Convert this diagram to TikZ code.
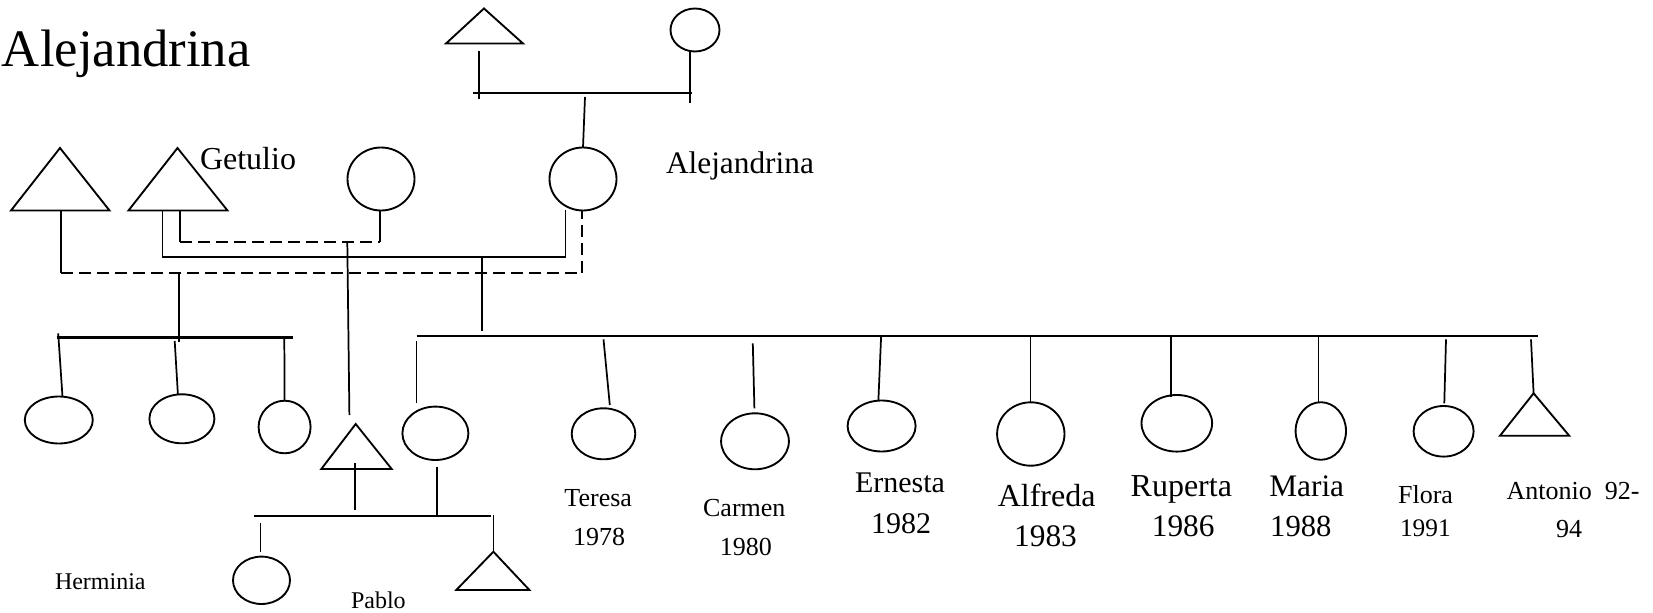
\documentclass[tikz,border=0pt]{standalone}
\usepackage{fontspec}
\setmainfont{Liberation Serif}
\usetikzlibrary{shapes.geometric}
\newlength\pxu
\setlength\pxu{0.75pt}
\newcommand\fsz[1]{\fontsize{#1}{#1}\selectfont}
\tikzset{
  fem/.style={draw, ellipse, line width=1.4pt, inner sep=0pt, outer sep=0pt},
  tri/.style={draw, line width=1.4pt, line join=miter},
  ln/.style={draw, line width=1.3pt},
  sibline/.style={draw, line width=2pt},
  dsh/.style={draw, line width=1.3pt, dash pattern=on 9pt off 4.5pt},
  lbl/.style={inner sep=0pt, outer sep=0pt, anchor=base},
  lblw/.style={inner sep=0pt, outer sep=0pt, anchor=base west}
}
\begin{document}
\begin{tikzpicture}[x=0.75pt, y=-0.75pt]
\useasboundingbox (0,0) rectangle (1653,613);

% ---------- title ----------
\node[lblw, font=\fsz{39.5pt}] (title) at (2,66.7) {Alejandrina};

% ---------- grandparents ----------
\coordinate (T0a) at (484,8.5);
\coordinate (T0l) at (446,43.5);
\coordinate (T0r) at (523,43.5);
\draw[tri] (T0a) -- (T0l) -- (T0r) -- cycle;
\node[fem, minimum width=49\pxu, minimum height=43\pxu] (C0) at (695,30) {};
\coordinate (g0a) at (479,51);
\coordinate (g0b) at (479,99);
\coordinate (g1a) at (690,51.5);
\coordinate (g1b) at (690,103);
\coordinate (gL) at (473,93);
\coordinate (gR) at (692,93);
\coordinate (gS) at (585,97);
\draw[ln] (g0a) -- (g0b);
\draw[ln] (g1a) -- (g1b);
\draw[sibline] (gL) -- (gR);

% ---------- second row ----------
\coordinate (T1a) at (60,148);
\coordinate (T1l) at (11,210.5);
\coordinate (T1r) at (109.5,210.5);
\draw[tri] (T1a) -- (T1l) -- (T1r) -- cycle;
\coordinate (T2a) at (177.5,148);
\coordinate (T2l) at (128.5,210.5);
\coordinate (T2r) at (227.5,210.5);
\draw[tri] (T2a) -- (T2l) -- (T2r) -- cycle;
\node[fem, minimum width=67\pxu, minimum height=63\pxu] (C3) at (381,179) {};
\node[fem, minimum width=67\pxu, minimum height=63\pxu] (CA) at (583,179) {};
\draw[ln] (gS) -- (CA.north);

\node[lblw, font=\fsz{24pt}] (lGetulio) at (200,169.5) {Getulio};
\node[lblw, font=\fsz{23.5pt}] (lAlej) at (666,174) {Alejandrina};

% partnerships
\coordinate (p1a) at (61,210.5);
\coordinate (p1b) at (61,273.3);
\coordinate (p1c) at (582.3,273.3);
\coordinate (p1d) at (582.3,210.5);
\draw[ln] (p1a) -- (p1b);
\draw[dsh] (p1b) -- (p1c) -- (p1d);

\coordinate (p2a) at (162.5,210.5);
\coordinate (p2b) at (162.5,257.3);
\coordinate (p2c) at (565.5,257.3);
\coordinate (p2d) at (565.5,210);
\draw[ln] (p2a) -- (p2b) -- (p2c) -- (p2d);

\coordinate (p3a) at (180,210.5);
\coordinate (p3b) at (180,241.7);
\coordinate (p3c) at (380,241.7);
\coordinate (p3d) at (380,211);
\draw[ln] (p3a) -- (p3b);
\draw[dsh] (p3b) -- (p3c);
\draw[ln] (p3c) -- (p3d);

% ---------- left sibship ----------
\coordinate (ls0) at (179,273.3);
\coordinate (ls1) at (179,341.7);
\draw[ln] (ls0) -- (ls1);
\coordinate (lsL) at (56.6,337.7);
\coordinate (lsR) at (292.7,337.7);
\draw[sibline] (lsL) -- (lsR);
\node[fem, minimum width=68\pxu, minimum height=47\pxu] (S1) at (58.8,420) {};
\node[fem, minimum width=65\pxu, minimum height=49\pxu] (S2) at (181.9,418.8) {};
\node[fem, minimum width=52\pxu, minimum height=52.6\pxu] (S3) at (284.6,427) {};
\coordinate (s1t) at (58.2,333.3);
\coordinate (s1b) at (62.5,396.7);
\coordinate (s2t) at (174.7,341);
\coordinate (s2b) at (177.9,394.3);
\coordinate (s3t) at (284.3,336);
\draw[ln] (s1t) -- (s1b);
\draw[ln] (s2t) -- (s2b);
\draw[ln] (s3t) -- (S3.north);

% ---------- Pablo's father ----------
\coordinate (pf0) at (347.3,241.7);
\coordinate (pf1) at (349.4,415);
\draw[ln] (pf0) -- (pf1);
\coordinate (T3a) at (355.7,424);
\coordinate (T3l) at (321.3,469);
\coordinate (T3r) at (391.7,469);
\draw[tri] (T3a) -- (T3l) -- (T3r) -- cycle;

% ---------- main sibship ----------
\coordinate (mj0) at (481.7,257.3);
\coordinate (mj1) at (481.7,330.7);
\draw[ln] (mj0) -- (mj1);
\coordinate (mL) at (416.6,336);
\coordinate (mR) at (1538.4,336);
\draw[sibline] (mL) -- (mR);

% child 1 (mother of Pablo)
\coordinate (c1t) at (416.6,341);
\coordinate (c1b) at (416.6,402.7);
\draw[ln] (c1t) -- (c1b);
\node[fem, minimum width=66\pxu, minimum height=53.4\pxu] (K1) at (435.4,433.3) {};

% Pablo's sibship
\coordinate (pp0) at (354.7,462.7);
\coordinate (pp1) at (354.7,510);
\draw[ln] (pp0) -- (pp1);
\coordinate (pm0) at (437.3,466.7);
\coordinate (pm1) at (437.3,515);
\draw[ln] (pm0) -- (pm1);
\coordinate (psL) at (254,516);
\coordinate (psR) at (490.7,516);
\draw[sibline] (psL) -- (psR);
\coordinate (ps1t) at (260.5,522.7);
\coordinate (ps1b) at (260.5,551.7);
\draw[ln] (ps1t) -- (ps1b);
\node[fem, minimum width=57\pxu, minimum height=47.4\pxu] (PC) at (261.5,580.3) {};
\coordinate (ps2t) at (493.4,515);
\coordinate (T4a) at (493.4,551.7);
\coordinate (T4l) at (456.3,590);
\coordinate (T4r) at (529.4,590);
\draw[ln] (ps2t) -- (T4a);
\draw[tri] (T4a) -- (T4l) -- (T4r) -- cycle;
\node[lblw, font=\fsz{18pt}] (lHerm) at (55,589) {Herminia};
\node[lblw, font=\fsz{18pt}] (lPablo) at (351,608) {Pablo};

% ---------- children ----------
% Teresa
\coordinate (teT) at (603.5,339.3);
\coordinate (teB) at (609.8,405);
\draw[ln] (teT) -- (teB);
\node[fem, minimum width=63.6\pxu, minimum height=51\pxu] (Teresa) at (603.5,433.8) {};
% Carmen
\coordinate (caT) at (752.8,343.3);
\coordinate (caB) at (754.4,408.3);
\draw[ln] (caT) -- (caB);
\node[fem, minimum width=67.8\pxu, minimum height=56\pxu] (Carmen) at (755,441.3) {};
% Ernesta
\coordinate (erT) at (881.1,336.7);
\coordinate (erB) at (878.4,400);
\draw[ln] (erT) -- (erB);
\node[fem, minimum width=68\pxu, minimum height=51\pxu] (Ernesta) at (881.6,426) {};
% Alfreda
\coordinate (alT) at (1030.4,336.7);
\coordinate (alB) at (1030.4,401.7);
\draw[ln] (alT) -- (alB);
\node[fem, minimum width=67.4\pxu, minimum height=63.4\pxu] (Alfreda) at (1030.8,434) {};
% Ruperta
\coordinate (ruT) at (1171.2,336.7);
\coordinate (ruB) at (1171.2,396.7);
\draw[ln] (ruT) -- (ruB);
\node[fem, minimum width=70.6\pxu, minimum height=56.6\pxu] (Ruperta) at (1176.8,423.3) {};
% Maria
\coordinate (maT) at (1318.4,336.7);
\coordinate (maB) at (1318.4,401.7);
\draw[ln] (maT) -- (maB);
\node[fem, minimum width=50.4\pxu, minimum height=57.6\pxu] (Maria) at (1320.8,431) {};
% Flora
\coordinate (flT) at (1446,339.3);
\coordinate (flB) at (1444.3,403.3);
\draw[ln] (flT) -- (flB);
\node[fem, minimum width=60\pxu, minimum height=50.6\pxu] (Flora) at (1443.6,431.3) {};
% Antonio
\coordinate (anT) at (1531,339.3);
\coordinate (T5a) at (1533.6,393.3);
\coordinate (T5l) at (1500,435.7);
\coordinate (T5r) at (1569.2,435.7);
\draw[ln] (anT) -- (T5a);
\draw[tri] (T5a) -- (T5l) -- (T5r) -- cycle;

% ---------- labels ----------
\node[lbl, font=\fsz{19.5pt}] (lTeresa) at (598.2,506.7) {Teresa};
\node[lbl, font=\fsz{19.5pt}] (yTeresa) at (599,545) {1978};
\node[lbl, font=\fsz{19.5pt}] (lCarmen) at (744.3,516) {Carmen};
\node[lbl, font=\fsz{19.5pt}] (yCarmen) at (745.9,555) {1980};
\node[lbl, font=\fsz{22.5pt}] (lErnesta) at (900,492.7) {Ernesta};
\node[lbl, font=\fsz{22.5pt}] (yErnesta) at (901,533.3) {1982};
\node[lbl, font=\fsz{24pt}] (lAlfreda) at (1046.6,506.7) {Alfreda};
\node[lbl, font=\fsz{23.5pt}] (yAlfreda) at (1045.5,546.7) {1983};
\node[lbl, font=\fsz{24pt}] (lRuperta) at (1181.3,496.7) {Ruperta};
\node[lbl, font=\fsz{23.5pt}] (yRuperta) at (1183.2,536.7) {1986};
\node[lbl, font=\fsz{23.5pt}] (lMaria) at (1306.7,496.7) {Maria};
\node[lbl, font=\fsz{23pt}] (yMaria) at (1300.9,536.7) {1988};
\node[lbl, font=\fsz{19.5pt}] (lFlora) at (1425.5,503.3) {Flora};
\node[lbl, font=\fsz{19pt}] (yFlora) at (1425.4,536.7) {1991};
\node[lbl, font=\fsz{19.5pt}] (lAntonio) at (1573,499.3) {Antonio\ \ 92-};
\node[lbl, font=\fsz{19.5pt}] (yAntonio) at (1569,537.3) {94};
\end{tikzpicture}
\end{document}
